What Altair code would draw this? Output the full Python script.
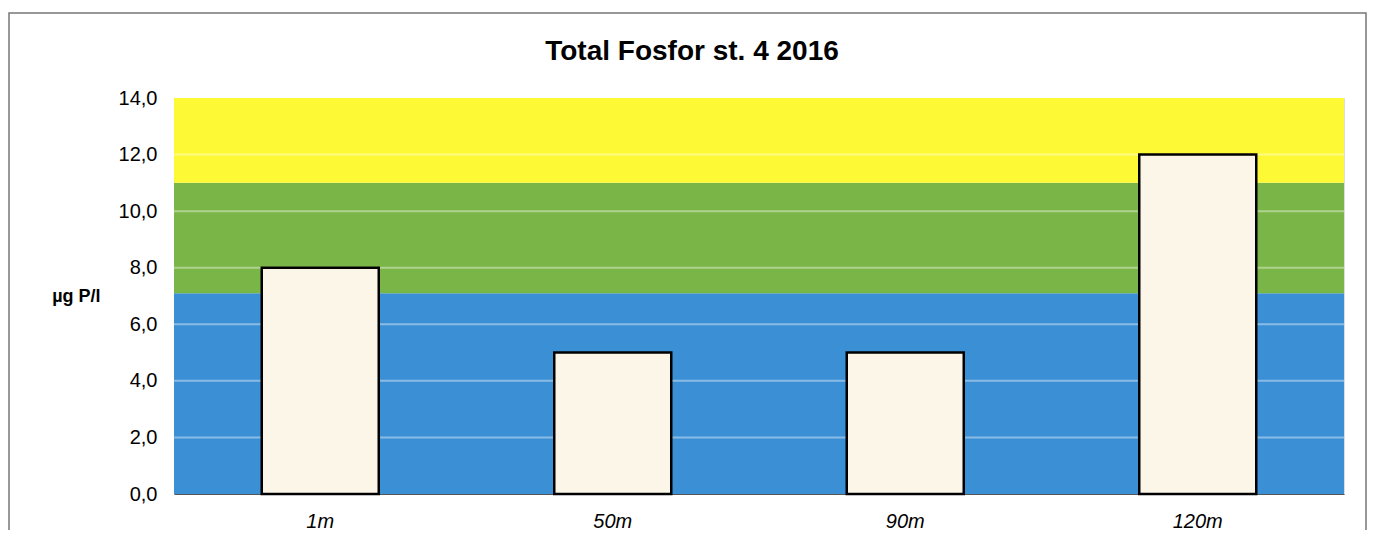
import altair as alt
import pandas as pd

# Data
depths = ["1m", "50m", "90m", "120m"]
values = [8.0, 5.0, 5.0, 12.0]

band_lo = [0.0, 7.1, 11.0]
band_hi = [7.1, 11.0, 14.0]
band_cls = ["blue", "green", "yellow"]
band_colors = ["#3b8fd5", "#7ab547", "#fdf935"]

grid_vals = [2, 4, 6, 8, 10, 12]
y_ticks = [0, 2, 4, 6, 8, 10, 12, 14]

title_text = "Total Fosfor st. 4 2016"

bars_df = pd.DataFrame({"depth": depths, "value": values})
bands_df = pd.DataFrame({"lo": band_lo, "hi": band_hi, "cls": band_cls})
grid_df = pd.DataFrame({"g": grid_vals})
one_df = pd.DataFrame({"t": [title_text]})

W, H = 1170, 396
FONT = "Liberation Sans"

yscale = alt.Scale(domain=[0, 14], nice=False, zero=True)
yaxis = alt.Axis(
    values=y_ticks,
    labelExpr="replace(format(datum.value, '.1f'), '.', ',')",
    labelFontSize=20, labelFont=FONT, labelColor="black", labelPadding=17,
    ticks=False, domain=False, grid=False,
    title="µg P/l", titleAngle=0, titleAlign="right", titleBaseline="middle",
    titleX=-74, titleY=H / 2, titleFontSize=18, titleFont=FONT,
    titleFontWeight="bold", titleColor="black",
)

bands = alt.Chart(bands_df).mark_rect().encode(
    y=alt.Y("lo:Q", scale=yscale, axis=yaxis, title="µg P/l"),
    y2="hi:Q",
    x=alt.value(0), x2=alt.value(W),
    color=alt.Color("cls:N", scale=alt.Scale(domain=band_cls, range=band_colors), legend=None),
)

grid = alt.Chart(grid_df).mark_rule(color="white", opacity=0.4, strokeWidth=2).encode(
    y=alt.Y("g:Q", scale=yscale, axis=yaxis, title="µg P/l"),
    x=alt.value(0), x2=alt.value(W),
)

bars = alt.Chart(bars_df).mark_bar(fill="#fcf6e8", stroke="black", strokeWidth=2.5).encode(
    x=alt.X("depth:N", sort=depths,
            scale=alt.Scale(paddingInner=0.6, paddingOuter=0.3),
            axis=alt.Axis(title=None, labelAngle=0, labelFontSize=20, labelFont=FONT,
                          labelFontStyle="italic", labelColor="black", labelPadding=17,
                          ticks=False, domain=True, domainColor="#555", domainWidth=1)),
    y=alt.Y("value:Q", scale=yscale, axis=yaxis, title="µg P/l"),
)

title = alt.Chart(one_df).mark_text(
    font=FONT, fontSize=28, fontWeight="bold", color="black",
    align="center", baseline="alphabetic",
).encode(
    text="t:N",
    x=alt.value(W / 2 - 67), y=alt.value(-38),
)

frame = alt.Chart(one_df).mark_rect(fill=None, stroke="#777", strokeWidth=1.5).encode(
    x=alt.value(-165), x2=alt.value(1192),
    y=alt.value(-85), y2=alt.value(460),
)

chart = alt.layer(bands, grid, bars, title, frame).properties(
    width=W, height=H,
    autosize=alt.AutoSizeParams(type="none"),
    padding={"left": 166, "top": 90, "right": 24, "bottom": 36},
).configure_view(stroke="#555", strokeWidth=1).configure(background="white")

chart.save("out.html", embed_options={"renderer": "svg", "actions": False})
